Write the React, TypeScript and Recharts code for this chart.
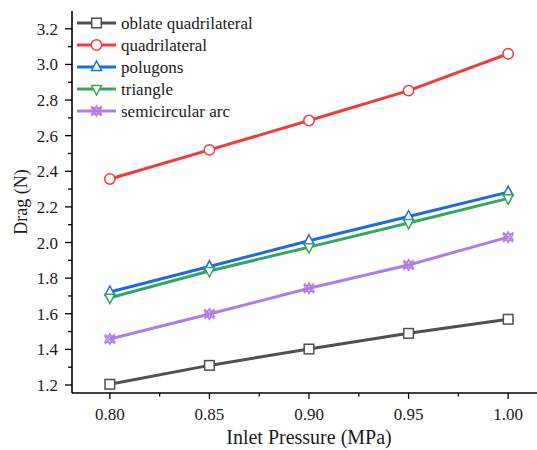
import React from 'react';
import { LineChart, Line, XAxis, YAxis, Label } from 'recharts';

// Inlet pressure (MPa)
const pressure = [0.8, 0.85, 0.9, 0.95, 1.0];

// Drag (N) for each profile
const oblateQuad = [1.204, 1.31, 1.402, 1.49, 1.569];
const quadrilateral = [2.357, 2.52, 2.685, 2.853, 3.06];
const polygons = [1.722, 1.865, 2.01, 2.146, 2.283];
const triangle = [1.69, 1.84, 1.974, 2.11, 2.248];
const semiArc = [1.458, 1.599, 1.743, 1.874, 2.03];

const xMajor = [0.8, 0.85, 0.9, 0.95, 1.0];
const xMinor = [0.825, 0.875, 0.925, 0.975];
const yMajor = [1.2, 1.4, 1.6, 1.8, 2.0, 2.2, 2.4, 2.6, 2.8, 3.0, 3.2];
const yMinor = [1.3, 1.5, 1.7, 1.9, 2.1, 2.3, 2.5, 2.7, 2.9, 3.1];

const FONT = '"Liberation Serif", "Times New Roman", serif';
const TEXT = '#1a1a1a';

type MarkerKind = 'square' | 'circle' | 'up' | 'down' | 'star';

const SERIES: { key: string; name: string; color: string; marker: MarkerKind; values: number[] }[] = [
  { key: 'oblate', name: 'oblate quadrilateral', color: '#505050', marker: 'square', values: oblateQuad },
  { key: 'quad', name: 'quadrilateral', color: '#f03c3c', marker: 'circle', values: quadrilateral },
  { key: 'poly', name: 'polugons', color: '#1a6de0', marker: 'up', values: polygons },
  { key: 'tri', name: 'triangle', color: '#38a65a', marker: 'down', values: triangle },
  { key: 'arc', name: 'semicircular arc', color: '#b07de2', marker: 'star', values: semiArc },
];

const data = pressure.map((p, i) => {
  const row: Record<string, number> = { x: p };
  SERIES.forEach(s => { row[s.key] = s.values[i]; });
  return row;
});

// hollow symbols, shared by the lines and the legend
function Marker({ kind, cx, cy, color }: { kind: MarkerKind; cx: number; cy: number; color: string }) {
  const sw = 1.5;
  switch (kind) {
    case 'square':
      return <rect x={cx - 4.8} y={cy - 4.8} width={9.6} height={9.6} fill="#fff" stroke={color} strokeWidth={sw} />;
    case 'circle':
      return <circle cx={cx} cy={cy} r={5.2} fill="#fff" stroke={color} strokeWidth={sw} />;
    case 'up':
      return <path d={`M${cx},${cy - 6} L${cx + 5},${cy + 3.5} L${cx - 5},${cy + 3.5} Z`} fill="#fff" stroke={color} strokeWidth={sw} />;
    case 'down':
      return <path d={`M${cx},${cy + 6} L${cx + 5},${cy - 3.5} L${cx - 5},${cy - 3.5} Z`} fill="#fff" stroke={color} strokeWidth={sw} />;
    default:
      return (
        <g fill="none" stroke={color} strokeWidth={1.3}>
          <path d={`M${cx},${cy - 5.5} L${cx + 5},${cy + 3} L${cx - 5},${cy + 3} Z`} />
          <path d={`M${cx},${cy + 5.5} L${cx + 5},${cy - 3} L${cx - 5},${cy - 3} Z`} />
          <path d={`M${cx - 5},${cy - 5} L${cx + 5},${cy + 5} M${cx + 5},${cy - 5} L${cx - 5},${cy + 5}`} />
        </g>
      );
  }
}

const labelStyle = { fontFamily: FONT, fontSize: 17, fill: TEXT };

// outward ticks: long for labelled values, short for the minor ones
const XTick = (props: any) => {
  const { x, y, payload } = props;
  const major = xMajor.some(v => Math.abs(v - payload.value) < 1e-6);
  return (
    <g>
      <line x1={x} y1={y} x2={x} y2={y + (major ? 6 : 3.5)} stroke="#000" strokeWidth={1.3} />
      {major && (
        <text x={x} y={y + 27} textAnchor="middle" style={labelStyle}>
          {payload.value.toFixed(2)}
        </text>
      )}
    </g>
  );
};

const YTick = (props: any) => {
  const { x, y, payload } = props;
  const major = yMajor.some(v => Math.abs(v - payload.value) < 1e-6);
  return (
    <g>
      <line x1={x} y1={y} x2={x - (major ? 7 : 4)} y2={y} stroke="#000" strokeWidth={1.3} />
      {major && (
        <text x={x - 14} y={y + 6} textAnchor="end" style={labelStyle}>
          {payload.value.toFixed(1)}
        </text>
      )}
    </g>
  );
};

const axisStroke = { stroke: '#000', strokeWidth: 1.6 };

export default function App() {
  return (
    <div style={{ position: 'absolute', left: 0, top: 0, width: 537, height: 450, overflow: 'hidden', background: '#fff', fontFamily: FONT }}>
      <LineChart width={546} height={450} data={data} margin={{ top: 11, right: 0, bottom: 0, left: 0 }} style={{ fontFamily: FONT }}>
        <XAxis
          dataKey="x"
          type="number"
          domain={[0.781, 1.019]}
          allowDataOverflow
          ticks={[...xMajor, ...xMinor].sort((a, b) => a - b)}
          interval={0}
          height={57}
          tickSize={0}
          tickMargin={0}
          tickLine={false}
          axisLine={axisStroke}
          tick={XTick}
        >
          <Label value="Inlet Pressure (MPa)" position="insideBottom" offset={6}
            style={{ fontFamily: FONT, fontSize: 20, fill: TEXT }} />
        </XAxis>
        {/* frame line along the top */}
        <XAxis
          xAxisId="top"
          orientation="top"
          type="number"
          domain={[0.781, 1.019]}
          height={0}
          tick={false}
          tickLine={false}
          axisLine={axisStroke}
        />
        <YAxis
          type="number"
          domain={[1.155, 3.3]}
          allowDataOverflow
          ticks={[...yMajor, ...yMinor].sort((a, b) => a - b)}
          interval={0}
          width={72}
          tickSize={0}
          tickMargin={0}
          tickLine={false}
          axisLine={axisStroke}
          tick={YTick}
        >
          <Label value="Drag (N)" angle={-90} position="insideLeft" offset={21}
            style={{ fontFamily: FONT, fontSize: 18, fill: TEXT, textAnchor: 'middle' }} />
        </YAxis>
        {SERIES.map(s => (
          <Line
            key={s.key}
            type="linear"
            dataKey={s.key}
            name={s.name}
            stroke={s.color}
            strokeWidth={3}
            isAnimationActive={false}
            dot={(p: any) => <Marker key={`${s.key}-${p.index}`} kind={s.marker} cx={p.cx} cy={p.cy} color={s.color} />}
            activeDot={false}
          />
        ))}
      </LineChart>
      <svg width={300} height={130} style={{ position: 'absolute', left: 0, top: 0, pointerEvents: 'none' }}>
        {SERIES.map((s, i) => {
          const y = 23 + i * 22;
          return (
            <g key={s.key}>
              <line x1={77} x2={116} y1={y} y2={y} stroke={s.color} strokeWidth={3} />
              <Marker kind={s.marker} cx={96.5} cy={y} color={s.color} />
              <text x={121} y={y + 6} style={labelStyle}>{s.name}</text>
            </g>
          );
        })}
      </svg>
    </div>
  );
}
